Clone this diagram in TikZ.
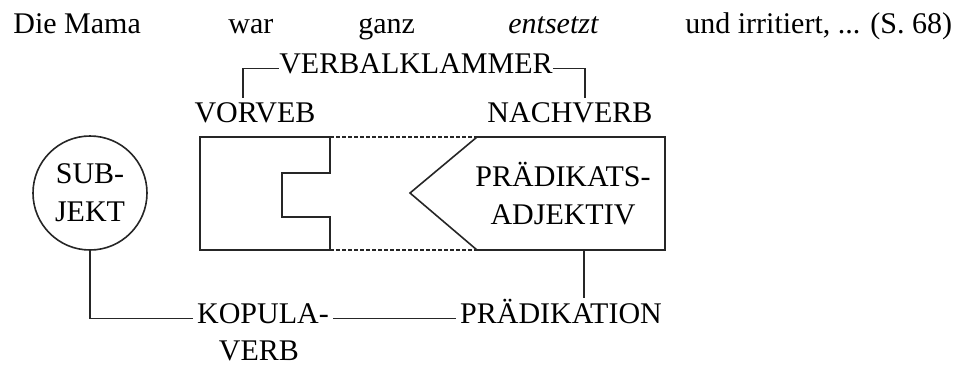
\documentclass[tikz,border=0pt]{standalone}
\usepackage{fontspec}
\setmainfont{Liberation Serif}
\usepackage{tikz}

\begin{document}
\begin{tikzpicture}[x=0.5pt,y=-0.5pt,
    lbl/.style={inner xsep=2pt,inner ysep=0pt,anchor=base,font=\fontsize{15}{19}\selectfont},
    rule/.style={line width=0.8pt,black!85}]
\useasboundingbox (0,0) rectangle (969,366);
% Satz
\foreach \n/\x/\w in {die/9/Die Mama, war/224/war, ganz/354/ganz,
    entsetzt/504/\textit{entsetzt}, rest/681/{und irritiert, {...} (S. 68)}}
  \node[lbl,anchor=base west] (\n) at (\x,33) {\w};
% Verbalklammer
\node[lbl,inner xsep=0pt] (klammer) at (416,73) {VERBALKLAMMER};
\node[lbl] (vorverb) at (255,122) {VORVEB};
\node[lbl] (nachverb) at (570,122) {NACHVERB};
\coordinate (vk) at (243,98);
\coordinate (nk) at (585,98);
\draw[rule] (klammer.mid west) -| (vk);
\draw[rule] (klammer.mid east) -| (nk);
% Klammerteile
\draw[rule] (200,137) -- (330,137) -- (330,173) -- (282,173) -- (282,217)
  -- (330,217) -- (330,250) -- (200,250) -- cycle;
\draw[rule] (477,137) -- (665,137) -- (665,250) -- (477,250) -- (410,193) -- cycle;
\draw[line width=0.6pt,black!85,dash pattern=on 2pt off 1pt]
  (330,137) -- (477,137) (330,250) -- (477,250);
\node[lbl,anchor=center,align=center] (adj) at (563,194) {PRÄDIKATS-\\ADJEKTIV};
% Subjekt und Praedikation
\node[circle,draw,rule,minimum size=57pt,inner sep=0pt,align=center,
  font=\fontsize{15}{19}\selectfont,text=black] (subj) at (90,193) {SUB-\\JEKT};
\node[lbl] (kopula) at (263,323) {KOPULA-};
\node[lbl] (verb) at (259,360) {VERB};
\node[lbl] (praed) at (561,323) {PRÄDIKATION};
\coordinate (adjfoot) at (584,250);
\draw[rule] (subj.south) |- (kopula.mid west);
\draw[rule] (kopula.mid east) -- (praed.mid west);
\draw[rule] (adjfoot) -- (praed.north -| adjfoot);
\end{tikzpicture}
\end{document}
